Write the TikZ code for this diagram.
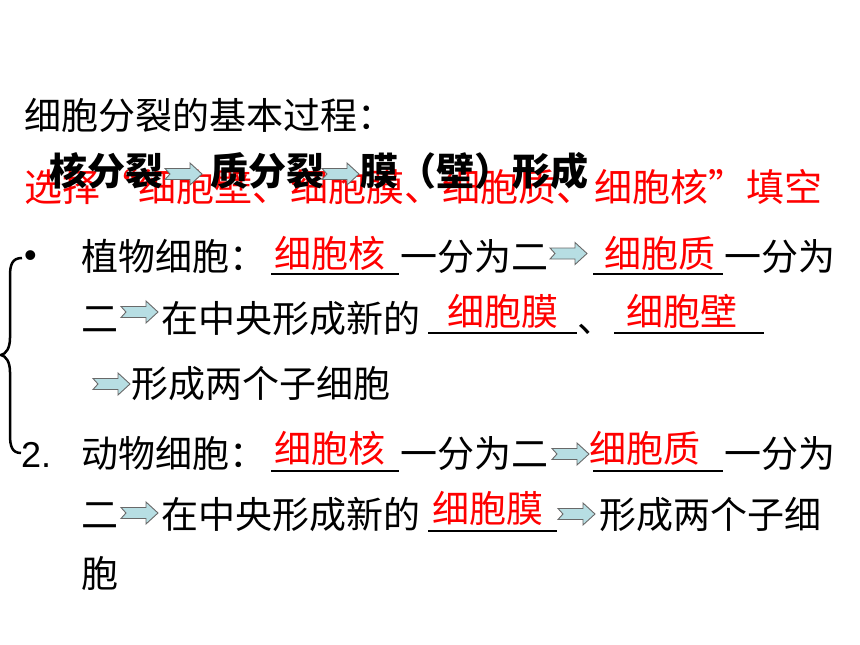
\documentclass[tikz,border=0pt]{standalone}
\usepackage{fontspec}
\newfontfamily\cjk{Noto Sans CJK SC}
\newfontfamily\latin{Liberation Sans}

\definecolor{arrowfill}{RGB}{183,222,227}
\definecolor{arrowline}{RGB}{105,105,105}

\tikzset{
  txt/.style={anchor=base west, inner sep=0pt, font=\cjk\fontsize{37bp}{40bp}\selectfont},
  answer/.style={txt, text=red},
  boldtxt/.style={txt, font=\cjk\bfseries\fontsize{38bp}{40bp}\selectfont},
  latinmark/.style={anchor=base west, inner sep=0pt, font=\latin\fontsize{36bp}{40bp}\selectfont},
  blankline/.style={line width=2bp},
  cellarrow/.pic={
    \draw[arrowline, fill=arrowfill, line width=0.9bp]
      (0,-5.5) -- (25,-5.5) -- (25,-11) -- (37,0) -- (25,11) -- (25,5.5) -- (0,5.5) -- (5,0) -- cycle;
  }
}

\begin{document}
\begin{tikzpicture}[x=1bp, y=-1bp]
  \useasboundingbox (0,0) rectangle (860,645);

  \node[txt] (title) at (24,130) {细胞分裂的基本过程：};

  % red hint sits under the bold line
  \node[answer, font=\cjk\fontsize{38bp}{40bp}\selectfont] (hint) at (24,202) {选择“细胞壁、细胞膜、细胞质、细胞核”填空};

  \node[boldtxt] (karyo) at (49,186) {核分裂};
  \node[boldtxt] (cyto) at (210,186) {质分裂};
  \node[boldtxt] (wall) at (360,186) {膜（壁）形成};

  % brace over the two items
  \draw[line width=2.5bp] (22,258) .. controls (12,258) and (10,265) .. (10,276) -- (10,338)
    .. controls (10,348) and (6,354) .. (1,355) .. controls (6,356) and (10,362) .. (10,372)
    -- (10,435) .. controls (10,446) and (12,453) .. (21,453);

  % plant cell
  \node[latinmark] (bullet) at (24,267) {•};
  \node[txt] (plant) at (81,270) {植物细胞：};
  \node[answer] (a1) at (274,267) {细胞核};
  \node[txt] (p1) at (400,270) {一分为二};
  \node[answer] (a2) at (604,267) {细胞质};
  \node[txt] (p2) at (724,270) {一分为};

  \node[txt] (p3) at (81,332) {二};
  \node[txt] (p4) at (161,332) {在中央形成新的};
  \node[answer] (a3) at (447,325) {细胞膜};
  \node[txt] (p5) at (577,332) {、};
  \node[answer] (a4) at (626,325) {细胞壁};

  \node[txt] (p6) at (131,397) {形成两个子细胞};

  % animal cell
  \node[latinmark] (num) at (21,467) {2.};
  \node[txt] (animal) at (81,467) {动物细胞：};
  \node[answer] (a5) at (274,462) {细胞核};
  \node[txt] (q1) at (400,467) {一分为二};
  \node[answer] (a6) at (589,462) {细胞质};
  \node[txt] (q2) at (724,467) {一分为};

  \node[txt] (q3) at (81,528) {二};
  \node[txt] (q4) at (161,528) {在中央形成新的};
  \node[answer] (a7) at (432,522) {细胞膜};
  \node[txt] (q5) at (599,528) {形成两个子细};
  \node[txt] (q6) at (81,587) {胞};

  % blanks
  \foreach \xa/\xb/\y in {271/399/274, 593/723/274, 428/577/333, 614/764/333,
                          271/399/471, 593/723/471, 428/557/531}
    \draw[blankline] (\xa,\y) -- (\xb,\y);

  % block arrows
  \foreach \x/\y in {165/174, 322/174, 550/253.5, 121/312, 93/384,
                     552/454, 121/513, 558/514}
    \pic at (\x,\y) {cellarrow};
\end{tikzpicture}
\end{document}
